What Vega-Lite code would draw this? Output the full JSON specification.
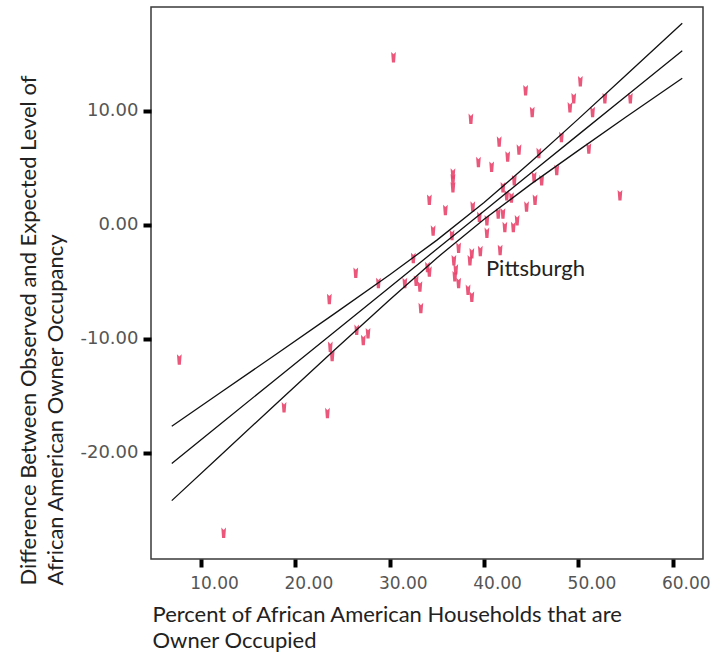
{
  "$schema": "https://vega.github.io/schema/vega-lite/v6.json",
  "width": 552,
  "height": 552,
  "autosize": {"type": "none"},
  "padding": {"left": 151, "top": 7, "right": 17, "bottom": 93},
  "background": "white",
  "config": {
    "view": {"stroke": "#3a3a3a", "strokeWidth": 1.5}
  },
  "resolve": {"axis": {"x": "independent", "y": "independent"}},
  "datasets": {
    "cities": [
      {"pct": 30.4, "diff": 14.7}, {"pct": 7.7, "diff": -11.8}, {"pct": 12.4, "diff": -27.0},
      {"pct": 18.8, "diff": -16.0}, {"pct": 23.4, "diff": -16.5}, {"pct": 23.6, "diff": -6.5},
      {"pct": 23.7, "diff": -10.7}, {"pct": 23.9, "diff": -11.5}, {"pct": 26.4, "diff": -4.2},
      {"pct": 26.5, "diff": -9.2}, {"pct": 27.2, "diff": -10.1}, {"pct": 27.7, "diff": -9.5},
      {"pct": 28.8, "diff": -5.1}, {"pct": 31.6, "diff": -5.1}, {"pct": 32.8, "diff": -4.9},
      {"pct": 33.2, "diff": -5.4}, {"pct": 33.3, "diff": -7.3}, {"pct": 34.2, "diff": -4.1},
      {"pct": 34.2, "diff": 2.2}, {"pct": 34.6, "diff": -0.5}, {"pct": 32.5, "diff": -2.9},
      {"pct": 34.0, "diff": -3.7}, {"pct": 50.2, "diff": 12.6}, {"pct": 44.4, "diff": 11.8},
      {"pct": 49.5, "diff": 11.1}, {"pct": 49.1, "diff": 10.3}, {"pct": 52.8, "diff": 11.1},
      {"pct": 55.5, "diff": 11.1}, {"pct": 45.1, "diff": 9.9}, {"pct": 51.5, "diff": 9.9},
      {"pct": 38.6, "diff": 9.3}, {"pct": 48.2, "diff": 7.7}, {"pct": 41.6, "diff": 7.3},
      {"pct": 43.7, "diff": 6.6}, {"pct": 45.8, "diff": 6.3}, {"pct": 42.5, "diff": 6.0},
      {"pct": 39.4, "diff": 5.5}, {"pct": 40.8, "diff": 5.1}, {"pct": 51.1, "diff": 6.7},
      {"pct": 47.7, "diff": 4.8}, {"pct": 43.2, "diff": 3.9}, {"pct": 45.3, "diff": 4.2},
      {"pct": 42.0, "diff": 3.3}, {"pct": 36.7, "diff": 4.5}, {"pct": 36.7, "diff": 3.3},
      {"pct": 46.1, "diff": 3.9}, {"pct": 54.4, "diff": 2.6}, {"pct": 45.4, "diff": 2.2},
      {"pct": 42.9, "diff": 2.4}, {"pct": 44.5, "diff": 1.6}, {"pct": 35.9, "diff": 1.3},
      {"pct": 38.8, "diff": 1.6}, {"pct": 42.0, "diff": 1.0}, {"pct": 43.5, "diff": 0.4},
      {"pct": 42.4, "diff": 2.6}, {"pct": 40.3, "diff": 0.4}, {"pct": 40.3, "diff": -0.7},
      {"pct": 39.5, "diff": 0.7}, {"pct": 41.5, "diff": 1.0}, {"pct": 42.2, "diff": -0.2},
      {"pct": 43.1, "diff": -0.2}, {"pct": 36.6, "diff": -0.9}, {"pct": 37.3, "diff": -2.0},
      {"pct": 36.8, "diff": -3.1}, {"pct": 38.7, "diff": -2.5}, {"pct": 39.6, "diff": -2.3},
      {"pct": 41.7, "diff": -2.2}, {"pct": 37.0, "diff": -3.9}, {"pct": 36.9, "diff": -4.5},
      {"pct": 37.3, "diff": -5.1}, {"pct": 38.5, "diff": -3.1}, {"pct": 38.3, "diff": -5.7},
      {"pct": 38.7, "diff": -6.3}, {"pct": 36.7, "diff": 4.0}
    ],
    "bands": [
      {"band": "upper", "pct": 6.9, "diff": -17.66}, {"band": "upper", "pct": 12, "diff": -14.75},
      {"band": "upper", "pct": 18, "diff": -11.32}, {"band": "upper", "pct": 24, "diff": -7.87},
      {"band": "upper", "pct": 30, "diff": -4.37}, {"band": "upper", "pct": 35, "diff": -1.34},
      {"band": "upper", "pct": 40, "diff": 1.95}, {"band": "upper", "pct": 45, "diff": 5.55},
      {"band": "upper", "pct": 50, "diff": 9.29}, {"band": "upper", "pct": 55, "diff": 13.09},
      {"band": "upper", "pct": 61, "diff": 17.68},
      {"band": "fit", "pct": 6.9, "diff": -20.92}, {"band": "fit", "pct": 12, "diff": -17.51},
      {"band": "fit", "pct": 18, "diff": -13.49}, {"band": "fit", "pct": 24, "diff": -9.48},
      {"band": "fit", "pct": 30, "diff": -5.47}, {"band": "fit", "pct": 35, "diff": -2.12},
      {"band": "fit", "pct": 40, "diff": 1.22}, {"band": "fit", "pct": 45, "diff": 4.57},
      {"band": "fit", "pct": 50, "diff": 7.91}, {"band": "fit", "pct": 55, "diff": 11.26},
      {"band": "fit", "pct": 61, "diff": 15.27},
      {"band": "lower", "pct": 6.9, "diff": -24.18}, {"band": "lower", "pct": 12, "diff": -20.27},
      {"band": "lower", "pct": 18, "diff": -15.66}, {"band": "lower", "pct": 24, "diff": -11.09},
      {"band": "lower", "pct": 30, "diff": -6.57}, {"band": "lower", "pct": 35, "diff": -2.90},
      {"band": "lower", "pct": 40, "diff": 0.49}, {"band": "lower", "pct": 45, "diff": 3.59},
      {"band": "lower", "pct": 50, "diff": 6.53}, {"band": "lower", "pct": 55, "diff": 9.43},
      {"band": "lower", "pct": 61, "diff": 12.86}
    ],
    "named": [
      {"pct": 40.2, "diff": -4.5, "city": "Pittsburgh"}
    ]
  },
  "layer": [
    {
      "data": {"name": "cities"},
      "mark": {
        "type": "point",
        "shape": "M-0.45,-1 L0,-0.55 L0.45,-1 L0.3,1 L-0.3,1 Z",
        "size": 110,
        "filled": true,
        "color": "#e8456d",
        "opacity": 0.9
      },
      "encoding": {
        "x": {
          "field": "pct",
          "type": "quantitative",
          "scale": {"domain": [4.7, 63.2], "nice": false, "zero": false},
          "axis": {
            "values": [10, 20, 30, 40, 50, 60],
            "format": ".2f",
            "grid": false,
            "domainOpacity": 0,
            "ticks": true,
            "tickColor": "#000000",
            "tickSize": 8,
            "tickWidth": 4,
            "labelFont": "DejaVu Sans",
            "labelFontSize": 17,
            "labelColor": "#555555",
            "labelOffset": 13,
            "labelPadding": 8,
            "title": ["Percent of African American Households that are", "Owner Occupied"],
            "titleFont": "Lato",
            "titleFontSize": 22,
            "titleFontWeight": "normal",
            "titleColor": "#222222",
            "titleLineHeight": 26,
            "titleAnchor": "start",
            "titleAlign": "left",
            "titleBaseline": "alphabetic",
            "titleX": 1,
            "titleY": 62
          }
        },
        "y": {
          "field": "diff",
          "type": "quantitative",
          "scale": {"domain": [-29.3, 19.1], "nice": false, "zero": false},
          "axis": {
            "values": [-20, -10, 0, 10],
            "labelExpr": "(datum.value < 0 ? '-' : '') + format(abs(datum.value), '.2f')",
            "grid": false,
            "domainOpacity": 0,
            "ticks": true,
            "tickColor": "#000000",
            "tickSize": 8,
            "tickWidth": 4,
            "labelFont": "DejaVu Sans",
            "labelFontSize": 18,
            "labelColor": "#555555",
            "labelPadding": 5,
            "title": ["Difference Between Observed and Expected Level of", "African American Owner Occupancy"],
            "titleFont": "Lato",
            "titleFontSize": 22,
            "titleFontWeight": "normal",
            "titleColor": "#222222",
            "titleLineHeight": 27,
            "titleAngle": -90,
            "titleAnchor": "start",
            "titleAlign": "left",
            "titleBaseline": "alphabetic",
            "titleX": -116,
            "titleY": 578
          }
        }
      }
    },
    {
      "data": {"name": "bands"},
      "mark": {"type": "line", "color": "#111111", "strokeWidth": 1.3},
      "encoding": {
        "x": {"field": "pct", "type": "quantitative", "axis": null},
        "y": {"field": "diff", "type": "quantitative", "axis": null},
        "detail": {"field": "band", "type": "nominal"}
      }
    },
    {
      "data": {"name": "named"},
      "mark": {
        "type": "text",
        "align": "left",
        "baseline": "alphabetic",
        "font": "Lato",
        "fontSize": 22,
        "color": "#222222"
      },
      "encoding": {
        "x": {"field": "pct", "type": "quantitative", "axis": null},
        "y": {"field": "diff", "type": "quantitative", "axis": null},
        "text": {"field": "city", "type": "nominal"}
      }
    }
  ]
}
